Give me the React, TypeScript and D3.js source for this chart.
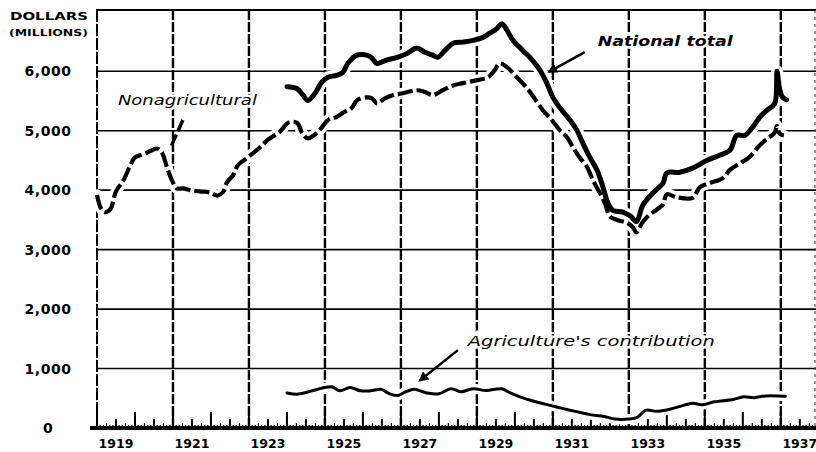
import { useRef, useEffect } from 'react';
import * as d3 from 'd3';

const W = 816;
const H = 452;
const FONT = "'DejaVu Sans', Verdana, sans-serif";

// [year, millions of dollars]
const nonagricultural: [number, number][] = [
  [1919.0, 3920], [1919.1, 3700], [1919.2, 3630], [1919.35, 3680], [1919.5, 3980],
  [1919.7, 4170], [1919.85, 4380], [1920.0, 4550], [1920.2, 4600], [1920.45, 4670],
  [1920.58, 4700], [1920.7, 4640], [1920.84, 4390], [1920.97, 4170], [1921.1, 4030],
  [1921.26, 4030], [1921.45, 4000], [1921.7, 3980], [1921.97, 3960], [1922.18, 3910],
  [1922.32, 3970], [1922.42, 4130], [1922.58, 4250], [1922.71, 4420], [1922.95, 4540],
  [1923.1, 4620], [1923.29, 4720], [1923.5, 4850], [1923.8, 4975], [1924.05, 5140],
  [1924.27, 5130], [1924.4, 4960], [1924.55, 4870], [1924.7, 4920], [1924.9, 5040],
  [1925.08, 5180], [1925.3, 5230], [1925.5, 5310], [1925.7, 5380], [1925.84, 5510],
  [1926.1, 5560], [1926.24, 5545], [1926.37, 5460], [1926.58, 5545], [1926.8, 5600],
  [1927.05, 5630], [1927.42, 5680], [1927.63, 5650], [1927.84, 5600], [1928.1, 5680],
  [1928.37, 5760], [1928.63, 5800], [1929.0, 5850], [1929.3, 5900], [1929.47, 6020],
  [1929.6, 6130], [1929.79, 6070], [1930.05, 5900], [1930.3, 5730], [1930.5, 5560],
  [1930.74, 5340], [1930.97, 5180], [1931.18, 5010], [1931.37, 4890], [1931.53, 4720],
  [1931.7, 4555], [1931.9, 4390], [1932.05, 4170], [1932.24, 3950], [1932.37, 3780],
  [1932.5, 3560], [1932.68, 3500], [1932.95, 3450], [1933.1, 3380], [1933.2, 3290],
  [1933.35, 3450], [1933.5, 3560], [1933.75, 3680], [1933.9, 3760], [1934.0, 3930],
  [1934.26, 3880], [1934.68, 3870], [1934.87, 4050], [1935.13, 4120], [1935.47, 4200],
  [1935.66, 4340], [1935.92, 4450], [1936.18, 4560], [1936.45, 4760], [1936.7, 4890],
  [1936.84, 4970], [1936.9, 5080], [1936.97, 4950], [1937.08, 4920],
];

const nationalTotal: [number, number][] = [
  [1924.0, 5740], [1924.26, 5710], [1924.42, 5600], [1924.55, 5510], [1924.74, 5630],
  [1924.92, 5820], [1925.08, 5900], [1925.3, 5930], [1925.47, 5980], [1925.6, 6130],
  [1925.84, 6270], [1926.1, 6270], [1926.24, 6220], [1926.37, 6130], [1926.58, 6180],
  [1926.9, 6235], [1927.16, 6300], [1927.42, 6390], [1927.63, 6320], [1927.84, 6270],
  [1927.97, 6235], [1928.16, 6350], [1928.37, 6470], [1928.63, 6490], [1928.9, 6520],
  [1929.16, 6570], [1929.34, 6640], [1929.53, 6720], [1929.66, 6800], [1929.79, 6690],
  [1929.95, 6520], [1930.21, 6350], [1930.47, 6180], [1930.66, 6020], [1930.84, 5800],
  [1931.0, 5560], [1931.18, 5390], [1931.45, 5180], [1931.63, 5010], [1931.79, 4790],
  [1931.97, 4555], [1932.16, 4340], [1932.32, 4050], [1932.45, 3780], [1932.58, 3660],
  [1932.84, 3630], [1933.05, 3560], [1933.2, 3470], [1933.37, 3750], [1933.63, 3950],
  [1933.9, 4120], [1934.0, 4290], [1934.34, 4300], [1934.68, 4370], [1935.05, 4500],
  [1935.4, 4590], [1935.66, 4670], [1935.84, 4920], [1936.05, 4920], [1936.26, 5060],
  [1936.45, 5230], [1936.63, 5340], [1936.84, 5460], [1936.9, 6000], [1936.97, 5700],
  [1937.05, 5560], [1937.15, 5520],
];

const agriculture: [number, number][] = [
  [1924.0, 590], [1924.3, 570], [1924.63, 620], [1925.0, 680], [1925.2, 690],
  [1925.39, 625], [1925.66, 680], [1925.94, 625], [1926.2, 625], [1926.49, 650],
  [1926.67, 585], [1926.9, 545], [1927.13, 610], [1927.35, 650], [1927.68, 590],
  [1928.0, 575], [1928.32, 660], [1928.58, 610], [1928.9, 660], [1929.24, 630],
  [1929.65, 660], [1929.88, 590], [1930.15, 520], [1930.5, 450], [1930.9, 385],
  [1931.25, 330], [1931.62, 275], [1931.98, 225], [1932.35, 195], [1932.63, 150],
  [1932.99, 150], [1933.22, 180], [1933.45, 300], [1933.73, 280], [1934.1, 320],
  [1934.46, 385], [1934.69, 415], [1934.92, 390], [1935.25, 440], [1935.75, 480],
  [1936.02, 525], [1936.3, 510], [1936.6, 540], [1937.12, 535],
];

const yTicks = [0, 1000, 2000, 3000, 4000, 5000, 6000];
const yearLabels = [1919, 1921, 1923, 1925, 1927, 1929, 1931, 1933, 1935, 1937];
const gridYears = [1921, 1923, 1925, 1927, 1929, 1931, 1933, 1935, 1937];

const App = () => {
  const svgRef = useRef(null);

  useEffect(() => {
    const svg = d3.select(svgRef.current);
    svg.selectAll('*').remove();

    const x = d3.scaleLinear().domain([1919, 1937.9]).range([97, 815]);
    const y = d3.scaleLinear().domain([0, 7030]).range([428, 10]);

    svg.append('rect').attr('width', W).attr('height', H).attr('fill', 'white');

    const defs = svg.append('defs');
    defs
      .append('marker')
      .attr('id', 'arrow')
      .attr('viewBox', '0 0 10 10')
      .attr('refX', 8)
      .attr('refY', 5)
      .attr('markerWidth', 4)
      .attr('markerHeight', 4)
      .attr('orient', 'auto')
      .append('path')
      .attr('d', 'M0,0 L10,5 L0,10 z')
      .attr('fill', 'black');

    // horizontal grid
    svg
      .selectAll('.hgrid')
      .data(yTicks.filter((d) => d > 0))
      .join('line')
      .attr('x1', x(1919))
      .attr('x2', W)
      .attr('y1', (d) => y(d))
      .attr('y2', (d) => y(d))
      .attr('stroke', 'black')
      .attr('stroke-width', 1.6);

    // top border
    svg
      .append('line')
      .attr('x1', x(1919) - 1)
      .attr('x2', W)
      .attr('y1', y(7030))
      .attr('y2', y(7030))
      .attr('stroke', 'black')
      .attr('stroke-width', 2.2);

    // vertical grid (odd years), left + right border
    svg
      .selectAll('.vgrid')
      .data(gridYears)
      .join('line')
      .attr('x1', (d) => x(d))
      .attr('x2', (d) => x(d))
      .attr('y1', y(7030))
      .attr('y2', y(0))
      .attr('stroke', 'black')
      .attr('stroke-width', 2.4)
      .attr('stroke-dasharray', '10 2');

    svg
      .append('line')
      .attr('x1', x(1919))
      .attr('x2', x(1919))
      .attr('y1', y(7030))
      .attr('y2', y(0))
      .attr('stroke', 'black')
      .attr('stroke-width', 2)
      .attr('stroke-dasharray', '12 2');

    svg
      .append('line')
      .attr('x1', x(1937.9))
      .attr('x2', x(1937.9))
      .attr('y1', y(7030))
      .attr('y2', y(0))
      .attr('stroke', '#555')
      .attr('stroke-width', 1.2)
      .attr('stroke-dasharray', '3 4');

    // baseline ticks: months, quarters, half years, years
    const months = d3.range(0, Math.floor((1937.9 - 1919) * 12) + 1).map((m) => 1919 + m / 12);
    svg
      .selectAll('.mtick')
      .data(months)
      .join('line')
      .attr('x1', (d) => x(d))
      .attr('x2', (d) => x(d))
      .attr('y1', y(0))
      .attr('y2', (d, i) => {
        if (i % 12 === 0) return y(0) - 16;
        if (i % 6 === 0) return y(0) - 9;
        if (i % 3 === 0) return y(0) - 5;
        return y(0) - 3;
      })
      .attr('stroke', 'black')
      .attr('stroke-width', (d, i) => (i % 6 === 0 ? 2 : 1.2));

    svg
      .append('line')
      .attr('x1', 90)
      .attr('x2', W)
      .attr('y1', y(0))
      .attr('y2', y(0))
      .attr('stroke', 'black')
      .attr('stroke-width', 4);

    // curves
    const line = d3
      .line<[number, number]>()
      .x((d) => x(d[0]))
      .y((d) => y(d[1]))
      .curve(d3.curveCatmullRom.alpha(0.5));

    const series = [
      { data: agriculture, width: 3, dash: null },
      { data: nonagricultural, width: 4.2, dash: '15 4' },
      { data: nationalTotal, width: 5, dash: null },
    ];

    series.forEach((s) => {
      svg
        .append('path')
        .attr('d', line(s.data))
        .attr('fill', 'none')
        .attr('stroke', 'white')
        .attr('stroke-width', s.width + 7)
        .attr('stroke-linejoin', 'round')
        .attr('stroke-linecap', 'round');
    });
    series.forEach((s) => {
      svg
        .append('path')
        .attr('d', line(s.data))
        .attr('fill', 'none')
        .attr('stroke', 'black')
        .attr('stroke-width', s.width)
        .attr('stroke-linejoin', 'round')
        .attr('stroke-linecap', s.dash ? 'butt' : 'round')
        .attr('stroke-dasharray', s.dash);
    });

    // y labels
    svg
      .selectAll('.ylab')
      .data(yTicks)
      .join('text')
      .attr('x', 48)
      .attr('y', (d) => y(d) + 5)
      .attr('text-anchor', 'middle')
      .attr('font-family', FONT)
      .attr('font-weight', 'bold')
      .attr('font-size', 14)
      .attr('letter-spacing', 0.5)
      .text((d) => (d === 0 ? '0' : d3.format(',')(d)));

    // x labels at mid-year
    svg
      .selectAll('.xlab')
      .data(yearLabels)
      .join('text')
      .attr('x', (d) => x(d + 0.5))
      .attr('y', 448)
      .attr('text-anchor', 'middle')
      .attr('font-family', FONT)
      .attr('font-weight', 'bold')
      .attr('font-size', 12.5)
      .text((d) => d);

    svg
      .append('text')
      .attr('x', 10)
      .attr('y', 20)
      .attr('font-family', FONT)
      .attr('font-weight', 'bold')
      .attr('font-size', 11)
      .attr('textLength', 78)
      .attr('lengthAdjust', 'spacingAndGlyphs')
      .text('DOLLARS');

    svg
      .append('text')
      .attr('x', 9)
      .attr('y', 36)
      .attr('font-family', FONT)
      .attr('font-weight', 'bold')
      .attr('font-size', 8.5)
      .attr('textLength', 79)
      .attr('lengthAdjust', 'spacingAndGlyphs')
      .text('(MILLIONS)');

    // annotations
    const labels = [
      { text: 'Nonagricultural', at: [1919.55, 5430], len: 139, size: 14, weight: 'normal' },
      { text: 'National total', at: [1932.18, 6425], len: 135, size: 14, weight: 'bold' },
      { text: "Agriculture's contribution", at: [1928.76, 1380], len: 247, size: 14, weight: 'normal' },
    ];
    svg
      .selectAll('.ann')
      .data(labels)
      .join('text')
      .attr('x', (d) => x(d.at[0]))
      .attr('y', (d) => y(d.at[1]))
      .attr('font-family', FONT)
      .attr('font-style', 'italic')
      .attr('font-weight', (d) => d.weight)
      .attr('font-size', (d) => d.size)
      .attr('textLength', (d) => d.len)
      .attr('lengthAdjust', 'spacingAndGlyphs')
      .attr('stroke', 'white')
      .attr('stroke-width', 5)
      .attr('paint-order', 'stroke')
      .attr('fill', 'black')
      .text((d) => d.text);

    const arrows = [
      { from: [1931.84, 6320], to: [1930.9, 5990] },
      { from: [1928.5, 1310], to: [1927.5, 800] },
    ];
    arrows.forEach((a) => {
      svg
        .append('line')
        .attr('x1', x(a.from[0]))
        .attr('y1', y(a.from[1]))
        .attr('x2', x(a.to[0]))
        .attr('y2', y(a.to[1]))
        .attr('stroke', 'black')
        .attr('stroke-width', 2.5)
        .attr('marker-end', 'url(#arrow)');
    });

    // dashed pointer from Nonagricultural label
    svg
      .append('line')
      .attr('x1', x(1921.26))
      .attr('y1', y(5180))
      .attr('x2', x(1920.92))
      .attr('y2', y(4690))
      .attr('stroke', 'black')
      .attr('stroke-width', 3.5)
      .attr('stroke-dasharray', '12 4');
  }, []);

  return (
    <svg
      ref={svgRef}
      width={W}
      height={H}
      style={{ position: 'absolute', left: 0, top: 0 }}
    />
  );
};

export default App;
